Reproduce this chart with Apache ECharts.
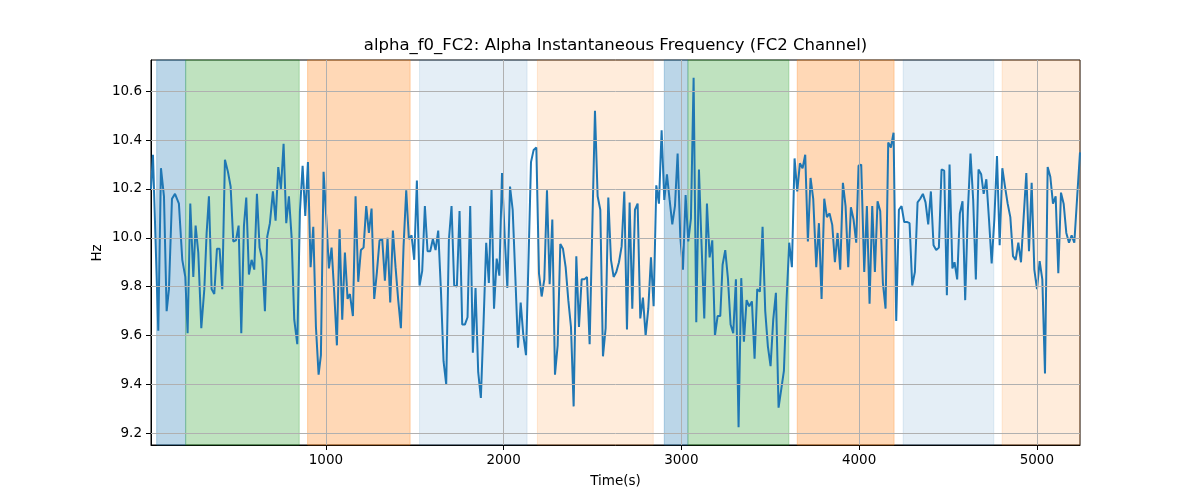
<!DOCTYPE html>
<html>
<head>
<meta charset="utf-8">
<script src="https://cdn.jsdelivr.net/npm/echarts@6/dist/echarts.min.js"></script>
<style>html,body{margin:0;padding:0;background:#fff}#c{width:1200px;height:500px}</style>
</head>
<body>
<div id="c"></div>
<script>
const titleText = 'alpha_f0_FC2: Alpha Instantaneous Frequency (FC2 Channel)';
const xName = 'Time(s)';
const yName = 'Hz';
const xTicks = [1000, 2000, 3000, 4000, 5000];
const yTicks = [9.2, 9.4, 9.6, 9.8, 10.0, 10.2, 10.4, 10.6];

const times = [16,27,57,72,89,104,117,134,151,173,192,209,222,237,254,267,282,299,316,329,342,357,372,387,402,417,432,449,464,479,494,509,524,539,552,567,582,597,612,627,642,657,
670,685,702,717,732,747,762,777,792,807,822,839,854,869,884,899,914,929,944,959,972,987,1002,1017,1032,1047,1062,1077,1092,1107,1122,1135,1152,1167,1182,1197,1212,1227,1242,1257,1272,1287,1302,
1317,1332,1347,1362,1377,1392,1407,1422,1437,1452,1467,1482,1497,1512,1527,1542,1557,1572,1587,1602,1617,1632,1647,1662,1677,1692,1707,1722,1737,1752,1767,1782,1797,1812,1827,1842,1857,1872,1887,1902,1917,1932,
1946,1961,1976,1991,2006,2021,2036,2051,2066,2081,2096,2111,2126,2141,2154,2169,2184,2199,2214,2229,2244,2259,2274,2289,2304,2319,2334,2349,2364,2379,2394,2409,2424,2439,2454,2469,2484,2499,2514,2529,2544,2559,2574,2589,
2604,2619,2634,2649,2664,2679,2694,2709,2724,2739,2754,2769,2784,2799,2814,2829,2844,2859,2874,2889,2904,2919,2934,2949,2964,2979,2994,3009,3024,3039,3054,3069,3084,3099,3114,3129,3144,3159,3174,3189,3204,3219,
3232,3247,3262,3277,3292,3307,3322,3337,3352,3367,3382,3397,3412,3427,3442,3457,3472,3487,3502,3517,3532,3547,3562,3577,3592,3607,3622,3637,3652,3667,3682,3697,3712,3727,3742,3759,3774,3789,3804,3819,3834,3849,3864,3879,3894,
3909,3924,3939,3954,3969,3984,3997,4012,4029,4044,4059,4074,4089,4104,4119,4134,4149,4164,4179,4194,4209,4224,4239,4254,4269,4284,4299,4314,4329,4344,4359,4374,4389,4404,4419,4434,4449,4464,4479,4494,4509,
4525,4537,4552,4567,4582,4597,4612,4627,4642,4657,4672,4687,4701,4716,4731,4746,4761,4776,4791,4806,4821,4836,4851,4866,4881,4896,4911,4926,4941,4956,4971,4986,5001,5016,5031,5046,5061,5076,5091,5106,5121,5136,5151,5166,5181,5196,5211,5226,5243];

const values = [10.20,10.34,9.62,10.285,10.17,9.70,9.79,10.16,10.18,10.14,9.91,9.84,9.61,10.14,9.84,10.05,9.94,9.63,9.79,10.02,10.17,9.79,9.77,9.955,9.955,9.79,10.32,10.27,10.21,9.985,9.99,10.05,9.61,10.05,10.165,9.85,9.91,9.87,10.18,9.96,9.91,9.70,
10.005,10.06,10.19,10.07,10.29,10.20,10.385,10.06,10.17,10.005,9.665,9.565,10.11,10.295,10.09,10.31,9.88,10.045,9.635,9.44,9.52,10.27,10.085,9.875,9.96,9.775,9.56,10.035,9.665,9.94,9.75,9.77,9.68,10.17,9.82,9.95,9.96,10.13,10.02,10.12,9.75,9.86,9.99,
9.995,9.825,10.0,9.735,10.03,9.88,9.745,9.63,9.965,10.195,9.995,10.01,9.91,10.235,9.805,9.865,10.13,9.945,9.945,9.995,9.95,10.03,9.79,9.495,9.40,9.99,10.13,9.805,9.80,10.11,9.645,9.645,9.675,10.13,9.53,9.795,9.45,9.345,9.65,9.98,9.815,10.20,
9.71,9.915,9.845,10.265,10.005,9.795,10.21,10.115,9.84,9.55,9.735,9.60,9.52,9.935,10.31,10.36,10.37,9.855,9.76,9.83,10.195,9.81,10.075,9.44,9.56,9.975,9.955,9.88,9.745,9.635,9.31,9.925,9.635,9.83,9.83,9.84,9.565,10.045,10.52,10.17,10.115,9.515,9.63,10.165,
9.91,9.84,9.86,9.90,9.965,10.19,9.625,10.145,9.71,10.115,10.14,9.67,9.755,9.60,9.71,9.92,9.72,10.215,10.14,10.44,10.155,10.26,10.155,10.055,10.13,10.345,10.005,9.87,10.175,9.985,10.08,10.655,9.655,10.28,9.965,9.67,10.14,9.92,9.99,9.60,9.68,9.68,
9.89,9.95,9.835,9.645,9.61,9.83,9.225,9.835,9.575,9.745,9.72,9.74,9.505,9.79,9.78,10.045,9.70,9.555,9.475,9.665,9.775,9.305,9.38,9.455,9.745,9.98,9.88,10.325,10.19,10.305,10.285,10.34,9.985,10.245,10.16,9.88,10.06,9.75,10.16,10.085,10.10,10.053,9.90,10.02,9.87,
10.225,10.13,9.88,10.125,10.075,9.98,10.295,10.30,9.86,10.13,9.73,10.13,9.86,10.15,10.11,9.815,9.71,10.39,10.37,10.43,9.66,10.115,10.13,10.065,10.065,10.06,9.805,9.86,10.145,10.16,10.18,10.145,10.055,10.19,9.97,9.95,9.96,10.28,10.275,9.765,10.30,
9.875,9.90,9.83,10.10,10.15,9.745,10.11,10.345,10.155,9.83,10.28,10.26,10.18,10.24,10.075,9.895,10.075,10.335,9.97,10.285,10.21,10.14,10.085,9.925,9.91,9.98,9.90,10.085,10.265,9.945,10.225,9.87,9.79,9.905,9.83,9.445,10.29,10.25,10.14,10.17,9.855,10.185,10.14,10.02,9.98,10.01,9.98,10.155,10.35];

// shaded segments
const bandStarts = [48, 211, 897, 1527, 2190, 2904, 3037, 3652, 4248, 4805];
const bandEnds   = [211, 850, 1474, 2132, 2842, 3037, 3605, 4197, 4758, 5243];
const bandKinds  = ['blue','green','orange','lightblue','lightorange','blue','green','orange','lightblue','lightorange'];

const bandColors = {
  blue: 'rgba(31,119,180,0.3)',
  green: 'rgba(44,160,44,0.3)',
  orange: 'rgba(255,127,14,0.3)',
  lightblue: 'rgba(31,119,180,0.12)',
  lightorange: 'rgba(255,127,14,0.15)'
};

const X_MIN = 16, X_MAX = 5243, Y_MIN = 9.152, Y_MAX = 10.728;
const FONT = 'DejaVu Sans';

const lineData = times.map((t, i) => [t, values[i]]);
const areaData = bandStarts.map((s, i) => [
  {xAxis: s, itemStyle: {color: bandColors[bandKinds[i]], borderColor: bandColors[bandKinds[i]], borderWidth: 1}},
  {xAxis: bandEnds[i]}
]);
const gridLineData = yTicks.map(v => ({yAxis: v})).concat(xTicks.map(v => ({xAxis: v})));

const chart = echarts.init(document.getElementById('c'), null, {renderer: 'canvas'});
chart.setOption({
  animation: false,
  backgroundColor: '#fff',
  grid: {left: 151, right: 120, top: 60, bottom: 55, show: true, borderColor: '#000', borderWidth: 1, backgroundColor: 'transparent'},
  xAxis: {
    type: 'value', min: X_MIN, max: X_MAX,
    axisLine: {show: true, onZero: false, lineStyle: {color: '#000', width: 1}},
    axisTick: {show: true, inside: false, length: 5, customValues: xTicks, lineStyle: {color: '#000'}},
    axisLabel: {show: true, customValues: xTicks, margin: 8, color: '#000', fontFamily: FONT, fontSize: 13.5,
      formatter: v => String(Math.round(v))},
    splitLine: {show: false}
  },
  yAxis: {
    type: 'value', min: Y_MIN, max: Y_MAX,
    axisLine: {show: true, onZero: false, lineStyle: {color: '#000', width: 1}},
    axisTick: {show: true, inside: false, length: 5, customValues: yTicks, lineStyle: {color: '#000'}},
    axisLabel: {show: true, customValues: yTicks, margin: 9, color: '#000', fontFamily: FONT, fontSize: 13.5,
      formatter: v => Number(v).toFixed(1)},
    splitLine: {show: false}
  },
  graphic: [
    {type: 'text', x: 615.5, y: 46, style: {text: titleText, font: '16.5px "DejaVu Sans"', fill: '#000', textAlign: 'center', textVerticalAlign: 'middle'}},
    {type: 'text', x: 615.5, y: 481, style: {text: xName, font: '13.5px "DejaVu Sans"', fill: '#000', textAlign: 'center', textVerticalAlign: 'middle'}},
    {type: 'text', x: 97, y: 253, rotation: Math.PI / 2, style: {text: yName, font: '13.5px "DejaVu Sans"', fill: '#000', textAlign: 'center', textVerticalAlign: 'middle'}}
  ],
  series: [
    {type: 'line', data: [], z: 1, silent: true,
      markArea: {silent: true, data: areaData}},
    {type: 'line', data: [], z: 2, silent: true,
      markLine: {silent: true, symbol: ['none', 'none'], label: {show: false},
        lineStyle: {color: '#b0b0b0', width: 1, type: 'solid'}, data: gridLineData}},
    {type: 'line', data: lineData, z: 3, showSymbol: false, symbol: 'none',
      lineStyle: {color: '#1f77b4', width: 2}, itemStyle: {color: '#1f77b4'}}
  ]
});
</script>
</body>
</html>
